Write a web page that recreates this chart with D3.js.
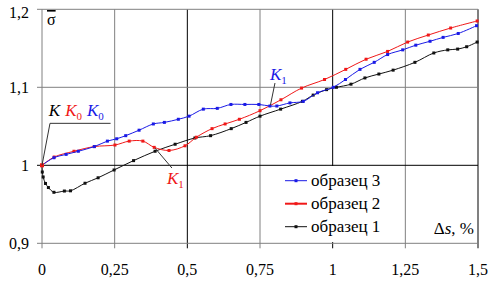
<!DOCTYPE html>
<html>
<head>
<meta charset="utf-8">
<script src="https://cdn.jsdelivr.net/npm/d3@7"></script>
<style>
  body { margin: 0; background: #fff; }
  svg text { font-family: "Liberation Serif", "Times New Roman", "DejaVu Serif", serif; }
</style>
</head>
<body>
<div class="chart"></div>
<script>
var width = 495;
var height = 283;

// образец 3 (blue)
var s3x = [0, 0.041, 0.083, 0.125, 0.18, 0.225, 0.257, 0.288, 0.334, 0.383, 0.421, 0.469, 0.506, 0.555, 0.603, 0.65, 0.698, 0.746, 0.784, 0.808, 0.853, 0.899, 0.948, 1.002, 1.044, 1.094, 1.143, 1.189, 1.241, 1.286, 1.335, 1.38, 1.432, 1.495];
var s3y = [1.0, 1.0097, 1.014, 1.018, 1.024, 1.031, 1.034, 1.038, 1.045, 1.053, 1.055, 1.059, 1.063, 1.072, 1.073, 1.078, 1.078, 1.078, 1.076, 1.076, 1.08, 1.082, 1.093, 1.1, 1.11, 1.123, 1.132, 1.142, 1.148, 1.154, 1.159, 1.164, 1.169, 1.179];
// образец 2 (red)
var s2x = [0, 0.042, 0.11, 0.18, 0.251, 0.3, 0.347, 0.386, 0.437, 0.492, 0.531, 0.585, 0.63, 0.679, 0.75, 0.822, 0.893, 0.972, 1.045, 1.115, 1.189, 1.258, 1.329, 1.406, 1.497];
var s2y = [1.0, 1.0106, 1.018, 1.024, 1.026, 1.031, 1.031, 1.023, 1.019, 1.025, 1.036, 1.047, 1.053, 1.059, 1.07, 1.084, 1.099, 1.11, 1.123, 1.136, 1.146, 1.158, 1.167, 1.176, 1.185];
// образец 1 (black)
var s1x = [0, 0.001, 0.004, 0.012, 0.022, 0.041, 0.077, 0.098, 0.148, 0.193, 0.248, 0.315, 0.389, 0.458, 0.526, 0.58, 0.651, 0.702, 0.75, 0.821, 0.896, 0.933, 0.979, 1.013, 1.063, 1.111, 1.159, 1.208, 1.283, 1.348, 1.396, 1.43, 1.461, 1.497];
var s1y = [1.0, 0.9914, 0.985, 0.9767, 0.9715, 0.9654, 0.967, 0.9673, 0.977, 0.984, 0.994, 1.006, 1.018, 1.027, 1.035, 1.038, 1.047, 1.055, 1.063, 1.072, 1.082, 1.09, 1.097, 1.1, 1.104, 1.112, 1.117, 1.122, 1.132, 1.144, 1.148, 1.149, 1.152, 1.158];

var xTicks = [0, 0.25, 0.5, 0.75, 1, 1.25, 1.5];
var yTicks = [0.9, 1, 1.1, 1.2];
var seriesNames = ['образец 3', 'образец 2', 'образец 1'];
var seriesColors = ['#1a1ae6', '#f01818', '#111111'];

var fmt = v => String(v).replace('.', ',');

var x = d3.scaleLinear().domain([0, 1.5]).range([42, 478]);
var y = d3.scaleLinear().domain([0.9, 1.2]).range([243.3, 9.3]);

var svg = d3.select('.chart').append('svg')
  .attr('width', width).attr('height', height);

// grid
var darkX = [0.5, 1];
svg.append('g').selectAll('line')
  .data(xTicks).enter().append('line')
    .attr('x1', d => x(d)).attr('x2', d => x(d))
    .attr('y1', y(1.2)).attr('y2', y(0.9) + 5)
    .attr('stroke', d => darkX.includes(d) ? '#000' : '#808080')
    .attr('stroke-width', d => d === 1.5 ? 2 : 1);
svg.append('g').selectAll('line')
  .data(yTicks).enter().append('line')
    .attr('x1', x(0) - 5).attr('x2', x(1.5))
    .attr('y1', d => y(d)).attr('y2', d => y(d))
    .attr('stroke', d => d === 1 ? '#000' : '#808080');

// tick labels
svg.append('g').selectAll('text')
  .data(yTicks).enter().append('text')
    .attr('x', 29)
    .attr('y', d => Math.max(y(d), 12) + 6)
    .attr('text-anchor', 'end')
    .style('font-size', '16px')
    .text(fmt);
svg.append('g').selectAll('text')
  .data(xTicks).enter().append('text')
    .attr('x', d => x(d))
    .attr('y', 275)
    .attr('text-anchor', 'middle')
    .style('font-size', '16px')
    .text(fmt);

// series
var series = [
  {name: seriesNames[0], color: seriesColors[0], pts: d3.zip(s3x, s3y)},
  {name: seriesNames[1], color: seriesColors[1], pts: d3.zip(s2x, s2y)},
  {name: seriesNames[2], color: seriesColors[2], pts: d3.zip(s1x, s1y)}
];

var line = d3.line()
  .x(d => x(d[0])).y(d => y(d[1]))
  .curve(d3.curveCatmullRom.alpha(0.5));

var sg = svg.append('g').selectAll('g')
  .data(series.slice().reverse()).enter().append('g');
sg.append('path')
  .attr('d', d => line(d.pts))
  .attr('fill', 'none')
  .attr('stroke', d => d.color)
  .attr('stroke-width', 1);
sg.selectAll('rect')
  .data(d => d.pts.slice(1).map(p => ({p: p, c: d.color}))).enter().append('rect')
    .attr('x', d => x(d.p[0]) - 1.5).attr('y', d => y(d.p[1]) - 1.5)
    .attr('width', 3).attr('height', 3)
    .attr('fill', d => d.c);
svg.append('rect')
  .attr('x', x(0) - 2).attr('y', y(1) - 2).attr('width', 4).attr('height', 4)
  .attr('fill', seriesColors[1]);

// annotations (in data coordinates)
var ann = svg.append('g').attr('stroke-width', 1).attr('fill', 'none');
ann.append('polyline')
  .attr('points', [[0, 1], [0.0275, 1.0538], [0.236, 1.0538]].map(p => [x(p[0]), y(p[1])]).join(' '))
  .attr('stroke', '#333');
ann.append('line')
  .attr('x1', x(0.8015)).attr('y1', y(1.1055)).attr('x2', x(0.786)).attr('y2', y(1.0773))
  .attr('stroke', '#333');
ann.append('line')
  .attr('x1', x(0.389)).attr('y1', y(1.022)).attr('x2', x(0.447)).attr('y2', y(0.9965))
  .attr('stroke', '#333');

var kText = svg.append('text')
  .attr('x', x(0.0235)).attr('y', y(1.063))
  .style('font-size', '17px').style('font-style', 'italic');
kText.append('tspan').attr('fill', '#000').text('K');
kText.append('tspan').attr('fill', seriesColors[1]).attr('dx', 5).text('K');
kText.append('tspan').attr('fill', seriesColors[1]).attr('dy', 4).style('font-size', '11px').style('font-style', 'normal').text('0');
kText.append('tspan').attr('fill', seriesColors[0]).attr('dx', 5).attr('dy', -4).text('K');
kText.append('tspan').attr('fill', seriesColors[0]).attr('dy', 4).style('font-size', '11px').style('font-style', 'normal').text('0');

function k1(xv, yv, color) {
  var t = svg.append('text').attr('x', x(xv)).attr('y', y(yv))
    .style('font-size', '17px').style('font-style', 'italic').attr('fill', color);
  t.append('tspan').text('K');
  t.append('tspan').attr('dy', 4).style('font-size', '11px').style('font-style', 'normal').text('1');
}
k1(0.784, 1.109, seriesColors[0]);
k1(0.43, 0.976, seriesColors[1]);

svg.append('text')
  .attr('x', 47).attr('y', 25)
  .style('font-size', '16px')
  .style('text-decoration', 'overline')
  .text('σ');

// legend
var lg = svg.append('g');
lg.append('rect')
  .attr('x', 272).attr('y', 166).attr('width', 130).attr('height', 76)
  .attr('fill', '#fff');
var li = lg.selectAll('g').data(series).enter().append('g')
  .attr('transform', (d, i) => `translate(285, ${180.7 + i * 23})`);
li.append('line')
  .attr('x1', 0).attr('x2', 22).attr('y1', 0).attr('y2', 0)
  .attr('stroke', d => d.color)
  .attr('stroke-width', (d, i) => i === 1 ? 2 : 1);
li.append('rect')
  .attr('x', 9.5).attr('y', -1.5).attr('width', 3).attr('height', 3)
  .attr('fill', d => d.color);
li.append('text')
  .attr('x', 26).attr('y', 5)
  .style('font-size', '17px')
  .text(d => d.name);

var ax = svg.append('text')
  .attr('x', 474).attr('y', 234)
  .attr('text-anchor', 'end')
  .style('font-size', '17px');
ax.append('tspan').text('Δ');
ax.append('tspan').style('font-style', 'italic').text('s');
ax.append('tspan').text(', %');
</script>
</body>
</html>
